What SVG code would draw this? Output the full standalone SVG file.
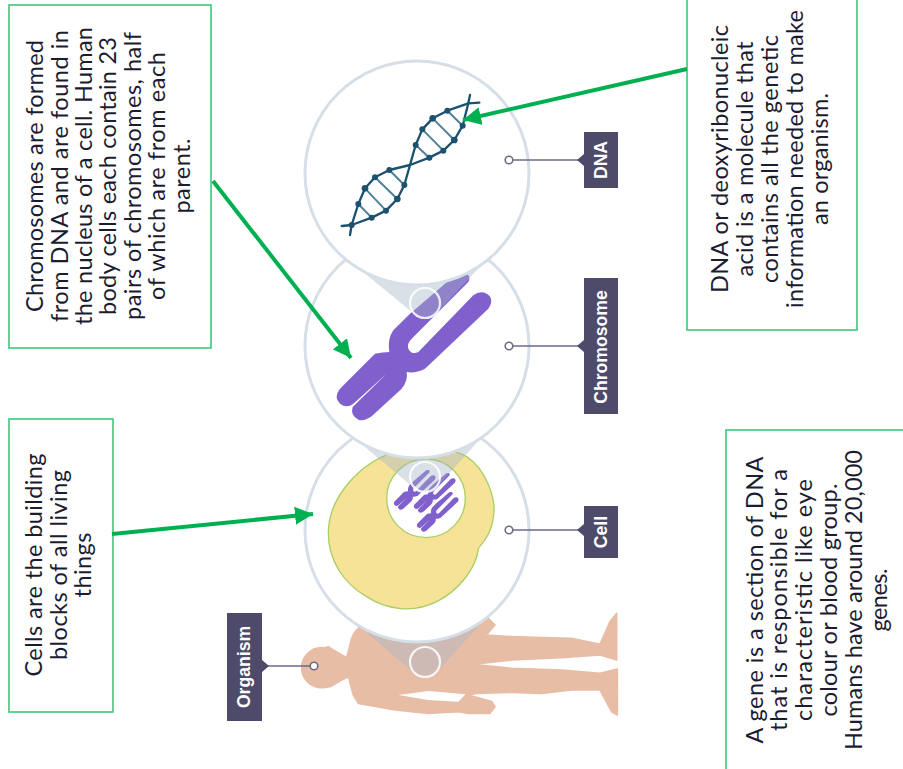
<svg xmlns="http://www.w3.org/2000/svg" width="903" height="769" viewBox="0 0 903 769">
<style>
.box{fill:#fff;stroke:#3cc878;stroke-width:1.6}
.note{font-family:"Lato","Open Sans",sans-serif;font-size:23.5px;fill:#1c1c30;text-anchor:middle}
.ring{fill:#fff;stroke:#d6dee7;stroke-width:3}
.fan{fill:#a8b6c8;fill-opacity:.42}
.lens{fill:none;stroke:#fff;stroke-opacity:.85;stroke-width:2.2}
.tag{fill:#4d4a6a}
.tagtext{font-family:"Liberation Sans",Arial,sans-serif;font-weight:700;font-size:17.6px;fill:#fff;text-anchor:middle}
.lead{stroke:#6d6a84;stroke-width:1.6;fill:none}
.pin{fill:#fff;stroke:#6d6a84;stroke-width:1.6}
.xshape{fill:#8060cc}
.skin{fill:#e8bda5;stroke:#e8bda5;stroke-width:5;stroke-linejoin:round}
.strand{fill:none;stroke:#1c5170;stroke-width:7;stroke-linejoin:round;stroke-linecap:round}
.rung{fill:none;stroke:#4f8299;stroke-width:6}
.bead{fill:#1c5170}
.pointer{fill:none;stroke:#00b050;stroke-width:4;marker-end:url(#head)}
</style>
<defs>
<marker id="head" markerUnits="userSpaceOnUse" markerWidth="18" markerHeight="18" refX="16" refY="8" orient="auto" viewBox="0 0 16 16"><path d="M0,0L16,8L0,16Z" fill="#00b050"/></marker>
<!-- X-shaped chromosome outline, centred on its waist -->
<path id="xchrom" d="M125,-220L-15,-100L-65,-50Q-83,-25 -77,15Q-95,15 -120,20L-225,125Q-245,150 -225,170Q-205,185 -185,170L-85,80L-187,180Q-195,205 -170,218Q-155,225 -130,208L-40,125Q-20,100 -25,75Q0,80 30,65L220,-115Q240,-145 215,-160Q195,-170 175,-155L10,15Q-10,25 -20,5Q-25,-10 -10,-25L160,-195Q170,-215 150,-222Q135,-225 125,-220Z"/>
</defs>
<rect width="903" height="769" fill="#fff"/>

<g id="organism">
<g transform="translate(295,605) scale(.33333)">
<path class="skin" d="M155,158L165,120Q170,85 195,65L350,100L545,42L575,35L600,60L578,85L535,88L650,95L740,98L830,100L915,118L945,50L965,25V165L915,150L800,158L650,165L530,178L650,190L800,195L915,205L967,192V330L950,320L915,255L830,255L740,265L650,262L545,265L520,270L590,290L600,305L585,325L520,325L490,320L400,325L300,315L190,295L175,270L160,215L140,225L105,245L90,245L50,235L85,130L100,125L115,135Z"/>
<circle class="skin" cx="80" cy="188" r="60"/>
<path fill="#fff" d="M310,270Q350,265 400,258L512,268L490,290L400,285Z"/>
</g>
<path class="fan" d="M360,627L413,672A15,15 0 0 0 437,672L487,617Z"/>
<circle class="lens" cx="425" cy="662" r="15"/>
</g>

<g id="cell">
<circle class="ring" cx="417" cy="530" r="112"/>
<g transform="translate(220,420) scale(.33333)">
<path fill="#f7e398" stroke="#a9cf62" stroke-width="4" d="M325,340C325,230 420,130 520,97C600,80 690,80 740,110C800,150 830,240 820,290C815,340 790,365 775,385C770,440 720,510 650,545C580,580 500,570 440,530C370,490 325,420 325,340Z"/>
<circle cx="618" cy="235" r="118" fill="#fff" stroke="#a9cf62" stroke-width="4"/>
</g>
<use href="#xchrom" class="xshape" transform="translate(415,490) scale(.09)"/>
<use href="#xchrom" class="xshape" transform="translate(435,493) scale(.09)"/>
<use href="#xchrom" class="xshape" transform="translate(438,512) scale(.09)"/>
<path class="fan" d="M353,437L413,487A15,15 0 0 0 437,487L482,437Z"/>
<circle class="lens" cx="425" cy="477" r="15"/>
</g>

<g id="chromosome">
<circle class="ring" cx="417" cy="346" r="112"/>
<use href="#xchrom" class="xshape" transform="translate(415,347) scale(.33333)"/>
<path class="fan" d="M346,258L413,313A15,15 0 0 0 437,313L488,258Z"/>
<circle class="lens" cx="425" cy="303" r="15"/>
</g>

<g id="dna">
<circle class="ring" cx="417" cy="173" r="112"/>
<g transform="translate(300,60) scale(.33333)">
<path class="rung" d="M175,432L215,473M195,385L258,452M225,352L292,417M268,330L313,375M347,255L388,293M367,208L430,272M398,175L463,240M442,152L488,197"/>
<path class="strand" d="M150,525L155,495L175,432L195,385L225,352L268,330L330,315L388,293L430,272L463,240L488,197L505,130L510,105"/>
<path class="strand" d="M125,498L155,495L215,473L258,452L292,417L313,375L330,315L347,255L367,208L398,175L442,152L505,130L538,128"/>
<g class="bead">
<circle cx="155" cy="495" r="9"/><circle cx="175" cy="432" r="9"/><circle cx="195" cy="385" r="10"/><circle cx="225" cy="352" r="9"/><circle cx="268" cy="330" r="9"/>
<circle cx="215" cy="473" r="9"/><circle cx="258" cy="452" r="9"/><circle cx="292" cy="417" r="10"/><circle cx="313" cy="375" r="9"/>
<circle cx="347" cy="255" r="9"/><circle cx="367" cy="208" r="9"/><circle cx="398" cy="175" r="10"/><circle cx="442" cy="152" r="9"/>
<circle cx="388" cy="293" r="9"/><circle cx="430" cy="272" r="9"/><circle cx="463" cy="240" r="10"/><circle cx="488" cy="197" r="9"/>
</g>
</g>
</g>

<g id="callouts">
<g id="tag-dna"><path class="lead" d="M513,160H580"/><circle class="pin" cx="509" cy="160" r="3.8"/><path class="tag" d="M584,132H618V188H584V166L577,160L584,154Z"/><text class="tagtext" transform="translate(607,160) rotate(-90)">DNA</text></g>
<g id="tag-chromosome"><path class="lead" d="M513,346H580"/><circle class="pin" cx="509" cy="346" r="3.8"/><path class="tag" d="M584,278H618V414H584V352L577,346L584,340Z"/><text class="tagtext" transform="translate(607,347) rotate(-90)">Chromosome</text></g>
<g id="tag-cell"><path class="lead" d="M513,530H580"/><circle class="pin" cx="509" cy="530" r="3.8"/><path class="tag" d="M584,506H618V558H584V536L577,530L584,524Z"/><text class="tagtext" transform="translate(607,532) rotate(-90)">Cell</text></g>
<g id="tag-organism"><path class="lead" d="M268,666H310"/><circle class="pin" cx="314" cy="666" r="3.8"/><path class="tag" d="M227,613H262V660L269,666L262,672V721H227Z"/><text class="tagtext" transform="translate(250,667) rotate(-90)">Organism</text></g>
</g>

<g id="note-chromosomes">
<rect class="box" x="9" y="5" width="202" height="343"/>
<g class="note">
<text transform="translate(43,176) rotate(-90)" textLength="272" lengthAdjust="spacing">Chromosomes are formed</text>
<text transform="translate(67.5,176) rotate(-90)" textLength="292" lengthAdjust="spacing">from DNA and are found in</text>
<text transform="translate(91.5,176) rotate(-90)" textLength="298" lengthAdjust="spacing">the nucleus of a cell. Human</text>
<text transform="translate(116,176) rotate(-90)" textLength="278" lengthAdjust="spacing">body cells each contain 23</text>
<text transform="translate(140.5,176) rotate(-90)" textLength="288" lengthAdjust="spacing">pairs of chromosomes, half</text>
<text transform="translate(165,176) rotate(-90)" textLength="248" lengthAdjust="spacing">of which are from each</text>
<text transform="translate(190,176) rotate(-90)" textLength="75" lengthAdjust="spacing">parent.</text>
</g>
</g>

<g id="note-cells">
<rect class="box" x="9" y="419" width="104" height="293"/>
<g class="note">
<text transform="translate(42,565) rotate(-90)" textLength="223" lengthAdjust="spacing">Cells are the building</text>
<text transform="translate(67,565) rotate(-90)" textLength="190" lengthAdjust="spacing">blocks of all living</text>
<text transform="translate(91,565) rotate(-90)" textLength="65" lengthAdjust="spacing">things</text>
</g>
</g>

<g id="note-dna">
<rect class="box" x="687" y="-5" width="170" height="335"/>
<g class="note">
<text transform="translate(728,159) rotate(-90)" textLength="268" lengthAdjust="spacing">DNA or deoxyribonucleic</text>
<text transform="translate(753,159) rotate(-90)" textLength="235" lengthAdjust="spacing">acid is a molecule that</text>
<text transform="translate(778,159) rotate(-90)" textLength="248" lengthAdjust="spacing">contains all the genetic</text>
<text transform="translate(803,159) rotate(-90)" textLength="298" lengthAdjust="spacing">information needed to make</text>
<text transform="translate(828,159) rotate(-90)" textLength="132" lengthAdjust="spacing">an organism.</text>
</g>
</g>

<g id="note-gene">
<rect class="box" x="726" y="430" width="190" height="350"/>
<g class="note">
<text transform="translate(763,600) rotate(-90)" textLength="287" lengthAdjust="spacing">A gene is a section of DNA</text>
<text transform="translate(787,600) rotate(-90)" textLength="262" lengthAdjust="spacing">that is responsible for a</text>
<text transform="translate(812,600) rotate(-90)" textLength="242" lengthAdjust="spacing">characteristic like eye</text>
<text transform="translate(837,600) rotate(-90)" textLength="233" lengthAdjust="spacing">colour or blood group.</text>
<text transform="translate(862,600) rotate(-90)" textLength="300" lengthAdjust="spacing">Humans have around 20,000</text>
<text transform="translate(887,600) rotate(-90)" textLength="63" lengthAdjust="spacing">genes.</text>
</g>
</g>

<g id="connectors">
<path class="pointer" d="M213,181L351,358"/>
<path class="pointer" d="M112,534L313,514"/>
<path class="pointer" d="M687,69L463,120"/>
</g>
</svg>
